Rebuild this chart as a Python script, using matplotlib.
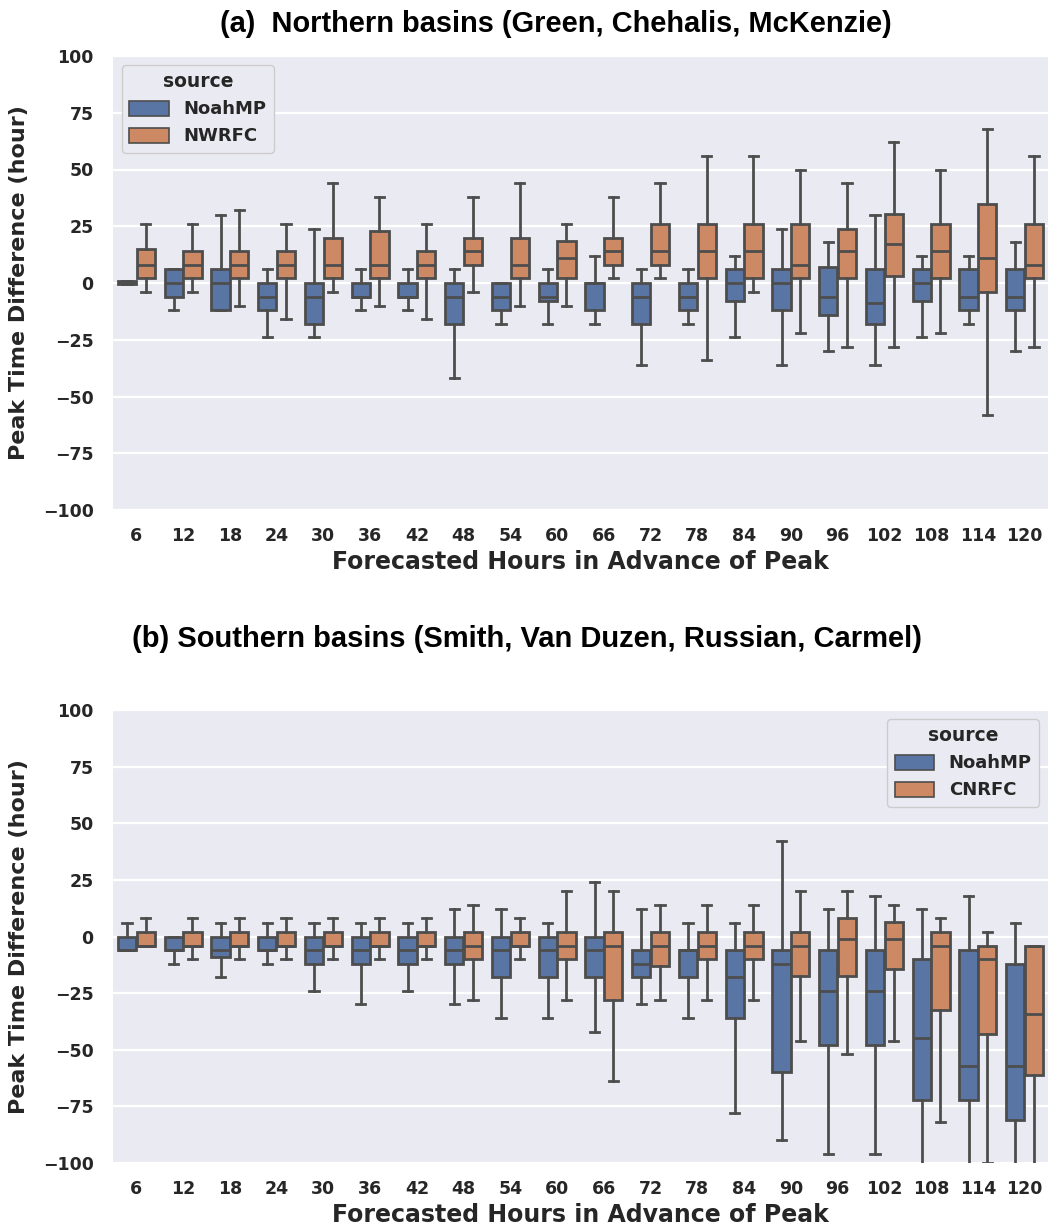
import matplotlib
matplotlib.use('Agg')
import matplotlib.pyplot as plt
from matplotlib.patches import Patch

plt.rcParams['font.family'] = 'DejaVu Sans'

# Forecast lead times (x categories)
hours = [6, 12, 18, 24, 30, 36, 42, 48, 54, 60, 66, 72, 78, 84, 90, 96, 102, 108, 114, 120]

# Panel (a) - northern basins: whisker low, q1, median, q3, whisker high
north_noah_lo = [-0.5, -12, -12, -24, -24, -12, -12, -42, -18, -18, -18, -36, -18, -24, -36, -30, -36, -24, -18, -30]
north_noah_q1 = [-0.5, -6, -12, -12, -18, -6, -6, -18, -12, -8, -12, -18, -12, -8, -12, -14, -18, -8, -12, -12]
north_noah_med = [0.5, 0, 0, -6, -6, -6, -6, -6, -6, -6, 0, -6, -6, 0, 0, -6, -9, 0, -6, -6]
north_noah_q3 = [1, 6, 6, 0, 0, 0, 0, 0, 0, 0, 0, 0, 0, 6, 6, 7, 6, 6, 6, 6]
north_noah_hi = [1, 6, 30, 6, 24, 6, 6, 6, 0, 6, 12, 6, 6, 12, 24, 18, 30, 12, 12, 18]

north_rfc_lo = [-4, -4, -10, -16, -4, -10, -16, -4, -10, -10, 2, 2, -34, -4, -22, -28, -28, -22, -58, -28]
north_rfc_q1 = [2, 2, 2, 2, 2, 2, 2, 8, 2, 2, 8, 8, 2, 2, 2, 2, 3, 2, -4, 2]
north_rfc_med = [8, 8, 8, 8, 8, 8, 8, 14, 8, 11, 14, 14, 14, 14, 8, 14, 17, 14, 11, 8]
north_rfc_q3 = [15, 14, 14, 14, 20, 23, 14, 20, 20, 18.5, 20, 26, 26, 26, 26, 24, 30.5, 26, 35, 26]
north_rfc_hi = [26, 26, 32, 26, 44, 38, 26, 38, 44, 26, 38, 44, 56, 56, 50, 44, 62, 50, 68, 56]

# Panel (b) - southern basins
south_noah_lo = [-6, -12, -18, -12, -24, -30, -24, -30, -36, -36, -42, -30, -36, -78, -90, -96, -96, -120, -120, -120]
south_noah_q1 = [-6, -6, -9, -6, -12, -12, -12, -12, -18, -18, -18, -18, -18, -36, -60, -48, -48, -72, -72, -81]
south_noah_med = [-6, -6, -6, -6, -6, -6, -6, -6, -6, -6, -6, -12, -6, -18, -12, -24, -24, -45, -57, -57]
south_noah_q3 = [0, 0, 0, 0, 0, 0, 0, 0, 0, 0, 0, -6, -6, -6, -6, -6, -6, -10, -6, -12]
south_noah_hi = [6, 0, 6, 6, 6, 6, 6, 12, 12, 6, 24, 12, 6, 6, 42, 12, 18, 12, 18, 6]

south_rfc_lo = [-4, -10, -10, -10, -10, -10, -10, -28, -10, -28, -64, -28, -28, -28, -46, -52, -46, -82, -100, -120]
south_rfc_q1 = [-4, -4, -4, -4, -4, -4, -4, -10, -4, -10, -28, -13, -10, -10, -17.5, -17.5, -14.5, -32.5, -43, -61]
south_rfc_med = [-4, -4, -4, -4, -4, -4, -4, -4, -4, -4, -4, -4, -4, -4, -4, -1, -1, -4, -10, -34]
south_rfc_q3 = [2, 2, 2, 2, 2, 2, 2, 2, 2, 2, 2, 2, 2, 2, 2, 8, 6.5, 2, -4, -4]
south_rfc_hi = [8, 8, 8, 8, 8, 8, 8, 14, 8, 20, 20, 14, 14, 14, 20, 20, 14, 8, 2, -4]

blue = '#5975a4'
orange = '#cc8963'
edge = '#4d4d4d'
text_col = '#262626'


def make_stats(lo, q1, med, q3, hi):
    return [dict(whislo=a, q1=b, med=c, q3=d, whishi=e, fliers=[])
            for a, b, c, d, e in zip(lo, q1, med, q3, hi)]


def draw_panel(ax, series, names, legend_loc):
    ax.set_facecolor('#EAEAF2')
    ax.grid(axis='y', color='white', linewidth=1.6)
    ax.set_axisbelow(True)
    for s in ax.spines.values():
        s.set_visible(False)

    width = 0.392
    offsets = [-0.2, 0.2]
    colors = [blue, orange]
    for (stats, off, col) in zip(series, offsets, colors):
        pos = [i + off for i in range(len(hours))]
        ax.bxp(stats, positions=pos, widths=width, patch_artist=True,
               showfliers=False, manage_ticks=False,
               boxprops=dict(facecolor=col, edgecolor=edge, linewidth=2),
               medianprops=dict(color=edge, linewidth=2),
               whiskerprops=dict(color=edge, linewidth=2),
               capprops=dict(color=edge, linewidth=2))

    ax.set_xlim(-0.5, len(hours) - 0.5)
    ax.set_ylim(-100, 100)
    ax.set_xticks(range(len(hours)))
    ax.set_xticklabels([str(h) for h in hours])
    ax.set_yticks([-100, -75, -50, -25, 0, 25, 50, 75, 100])
    ax.tick_params(axis='both', length=0, labelsize=12.5, labelcolor=text_col)
    ax.tick_params(axis='x', pad=12)
    ax.tick_params(axis='y', pad=14)
    for lab in ax.get_xticklabels() + ax.get_yticklabels():
        lab.set_fontweight('bold')

    ax.set_xlabel('Forecasted Hours in Advance of Peak', fontsize=17,
                  fontweight='bold', color=text_col, labelpad=4)
    ax.set_ylabel('Peak Time Difference (hour)', fontsize=16,
                  fontweight='bold', color=text_col, labelpad=10)

    handles = [Patch(facecolor=blue, edgecolor=edge, linewidth=1.2, label=names[0]),
               Patch(facecolor=orange, edgecolor=edge, linewidth=1.2, label=names[1])]
    leg = ax.legend(handles=handles, title='source', loc=legend_loc,
                    prop=dict(size=13, weight='bold'), title_fontsize=13.5,
                    facecolor='#EAEAF2', edgecolor='#cccccc', framealpha=1,
                    handlelength=2.2, handleheight=0.9)
    leg.get_title().set_fontweight('bold')
    leg.get_title().set_color(text_col)
    for t in leg.get_texts():
        t.set_color(text_col)


fig = plt.figure(figsize=(10.49, 12.28), dpi=100)
W, H = 1049.0, 1228.0
ax1 = fig.add_axes([113 / W, 1 - 510 / H, 935 / W, 454 / H])
ax2 = fig.add_axes([113 / W, 1 - 1163 / H, 935 / W, 453 / H])

north = [make_stats(north_noah_lo, north_noah_q1, north_noah_med, north_noah_q3, north_noah_hi),
         make_stats(north_rfc_lo, north_rfc_q1, north_rfc_med, north_rfc_q3, north_rfc_hi)]
south = [make_stats(south_noah_lo, south_noah_q1, south_noah_med, south_noah_q3, south_noah_hi),
         make_stats(south_rfc_lo, south_rfc_q1, south_rfc_med, south_rfc_q3, south_rfc_hi)]

draw_panel(ax1, north, ['NoahMP', 'NWRFC'], 'upper left')
draw_panel(ax2, south, ['NoahMP', 'CNRFC'], 'upper right')

fig.text(556 / W, 1 - 24 / H, '(a)  Northern basins (Green, Chehalis, McKenzie)',
         ha='center', va='center', fontsize=20.9, fontweight='bold',
         family='Liberation Sans', color='black')
fig.text(527 / W, 1 - 639 / H, '(b) Southern basins (Smith, Van Duzen, Russian, Carmel)',
         ha='center', va='center', fontsize=21, fontweight='bold',
         family='Liberation Sans', color='black')

fig.savefig('out.png', dpi=100)
